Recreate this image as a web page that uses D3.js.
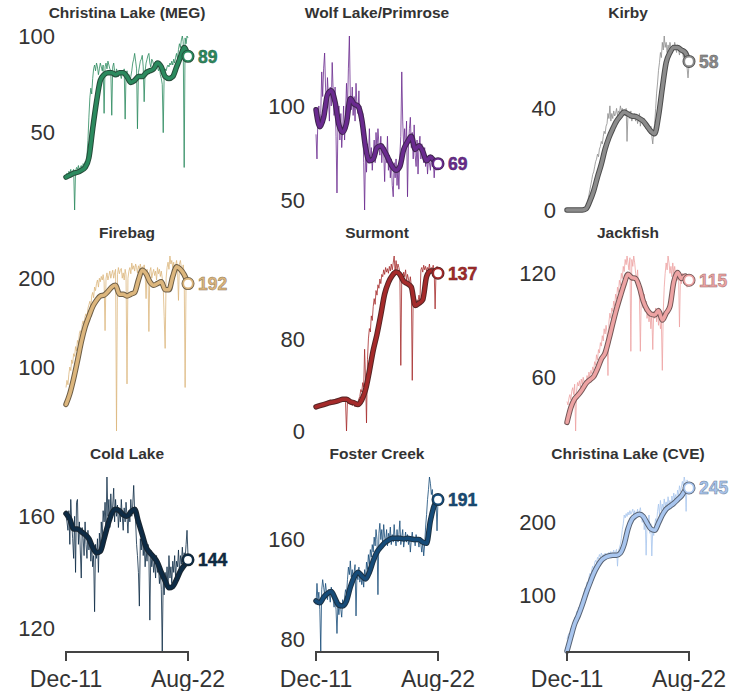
<!DOCTYPE html>
<html><head><meta charset="utf-8">
<script src="https://cdn.jsdelivr.net/npm/d3@7"></script>
<style>body{margin:0;background:#fff}</style>
</head><body><svg id="chart" width="738" height="691"></svg>
<script>
const titles = ["Christina Lake (MEG)","Wolf Lake/Primrose","Kirby","Firebag","Surmont","Jackfish","Cold Lake","Foster Creek","Christina Lake (CVE)"];
const colors = ["#2b8a5e","#6a2a8f","#8c8c8c","#dcb67d","#a52a2a","#eda3a3","#0d2b45","#164b78","#a8c5ee"];
const endLabels = [89,69,58,192,137,115,144,191,245];
const yTicks = [[50,100],[50,100],[0,40],[100,200],[0,80],[60,120],[120,160],[80,160],[100,200]];
const xTickLabels = ["Dec-11","Aug-22"];

// monthly raw values, Dec-11 .. Aug-22 (129 months)
const megRaw = [28,29,27,30,29,31,28,30,31,10, 30,32,31,33,30,32,33,31,34,33, 35,34,38,46,58,68,73,70,78,83, 85,82,86,84,80,83,86,84,82,85, 60,84,86,83,87,85,83,82,59,84, 86,82,80,83,81,79,82,80,78,81, 80,83,57,80,82,78,80,76,79,82, 86,88,91,87,83,52,81,84,87,88, 90,84,66,82,86,88,90,91,86,84, 88,87,85,84,87,86,84,82,84,80, 78,75,50,80,83,82,84,85,84,86, 85,87,85,88,86,89,91,88,93,96, 94,98,100,97,32,99,96,100,99];
const wolfRaw = [85,72,95,100,88,96,118,105,120,128, 110,98,115,105,92,110,100,123,108,95, 110,84,54,90,100,82,96,78,88,100, 82,95,112,98,120,137,105,98,110,95, 105,92,112,100,96,108,92,100,85,96, 70,45,78,65,80,72,88,70,78,66, 74,82,70,86,76,88,80,74,84,70, 80,76,60,78,70,84,66,74,62,72, 58,52,70,62,72,58,68,56,74,84, 118,92,78,88,76,92,52,80,88,94, 78,86,72,90,74,68,82,64,78,84, 72,80,74,70,78,68,74,64,72,70, 66,74,68,72,62,70,66,71,69];
const kirbyRaw = [0,0,0,0,0,0,0,0,0,0, 0,0,0,0,0,0,0,0,0,0.5, 1,2,4,6,8,10,12,14,15,17, 19,20,22,21,24,25,27,26,29,31, 30,33,34,38,36,41,35,38,36,39, 37,38,40,37,39,38,41,39,40,38, 39,37,40,27,38,37,36,39,35,37, 36,38,35,37,34,36,38,33,36,35, 34,36,33,32,34,31,32,30,33,29, 26,31,34,40,46,50,55,58,62,60, 66,63,68.5,64,66,62,65,63,66,64, 62,65,63,66,64,62,65,63,61,64, 62,63,60,62,59,61,56,52,57];
const firebagRaw = [77,85,80,92,100,96,108,104,115,112, 123,118,130,126,138,141,136,148,152,146, 157,160,155,166,170,174,168,180,184,178, 190,186,194,198,190,200,196,202,198,204, 196,141,200,206,198,203,208,200,205,209, 200,206,210,28,204,212,205,209,211,200, 206,198,210,204,81,200,208,212,205,217, 210,214,208,216,212,206,214,210,216,208, 213,209,215,205,177,210,204,140,208,212, 200,206,210,203,208,198,212,205,210,202, 208,200,190,157,121,200,212,218,210,225, 216,220,212,218,206,214,220,210,175,216, 220,212,208,215,205,77,200,198,192];
const surmontRaw = [20,22,21,23,22,24,21,23,25,22, 24,23,26,24,25,27,24,26,25,27, 26,28,25,27,26,28,27,29,26,28, 27,25,0,26,24,26,23,25,22,24, 23,21,24,22,25,28,30,36,34,42, 38,71,45,7,62,80,89,86,100,96, 108,115,110,122,118,127,124,132,128,136, 134,140,136,142,138,141,137,143,139,145, 140,146,152,138,148,140,145,142,138,57, 136,132,138,134,140,130,136,132,128,134, 126,44,120,112,116,110,114,112,118,113, 140,142,138,144,140,143,139,142,140,145, 138,142,141,144,139,106,140,143,140];
const jackfishRaw = [46,44,48,50,47,52,54,50,56,29, 52,57,55,58,54,59,56,60,57,58, 55,61,58,63,60,64,62,66,64,69, 67,73,70,76,74,80,78,84,81,88, 85,90,86,61,92,97,94,100,98,104, 101,108,105,112,109,116,113,120,117,124, 121,128,125,130,126,122,129,75,128,124, 130,126,120,116,122,112,106,75,110,104, 100,108,98,104,94,100,92,98,88,96, 76,98,94,100,92,98,90,96,88,92, 64,98,112,120,126,122,130,126,120,124, 118,126,120,124,118,122,116,120,89,118, 114,120,116,119,114,118,112,117,115];
const coldRaw = [160,158,155,162,150,166,158,152,145,160, 140,165,166,150,158,148,138,156,152,146, 158,150,145,155,148,152,144,150,142,146, 126,150,145,152,140,154,148,158,152,162, 158,165,156,174,160,166,156,168,160,164, 170,158,166,160,164,156,162,158,166,160, 155,163,158,165,160,154,162,158,166,160, 164,171,162,158,150,146,140,128,152,148, 154,146,150,142,148,144,150,146,123,148, 142,146,140,144,138,146,140,142,136,140, 134,112,138,132,140,136,142,134,146,138, 142,136,144,140,146,138,144,142,148,140, 146,143,149,144,147,145,150,155,146];
const fosterRaw = [108,125,112,118,104,71,120,128,122,116, 125,118,112,120,116,110,122,118,112,106, 114,104,85,108,100,110,104,98,112,106, 114,120,116,128,138,132,143,130,136,128, 134,140,99,132,128,138,126,132,124,130, 122,136,128,142,136,148,140,152,146,156, 150,162,155,168,160,116,165,173,160,168, 156,172,162,158,168,155,165,160,170,156, 164,158,172,160,155,168,158,164,175,156, 162,168,154,160,166,158,164,156,162,150, 160,166,158,162,155,164,158,160,154,162, 156,150,158,147,156,170,180,192,200,210, 205,196,200,188,194,185,190,167,192];
const cveRaw = [40,45,48,42,55,50,62,58,70,66, 78,72,84,80,90,86,96,92,104,110, 106,118,114,125,130,126,136,140,134,145, 148,144,152,150,156,152,158,154,156,152, 158,155,157,153,159,156,160,155,158,162, 156,160,163,140,161,165,170,178,190,198, 210,206,212,208,214,210,216,211,214,218, 210,216,206,212,218,208,214,220,210,200, 212,190,205,155,200,192,210,185,198,154, 190,182,196,205,200,215,225,210,230,216, 225,218,232,222,228,220,235,225,230,222, 236,228,240,232,238,230,244,236,250,242, 248,256,250,262,255,215,258,250,252];

// smoothed values, every 4 months Dec-11 .. Aug-22 (33 points)
const megSmooth = [27,28,29,29.5,30.5,32,37,52,66,77,80,81,81,80,81,81,79,76,77,79,79,81,82,83,86,84,79,78,79,84,89,94,89.5];
const wolfSmooth = [98,89,94,106,108,102,90,86,91,104,101,100,93,78,71,72,78,79,76,72,68,66,68,77,81,84,77,79,76,71,73,71,69.5];
const kirbySmooth = [0,0,0,0,0,0.5,3.5,7.5,13,18,24,28.5,32,35,37,38.6,37.8,37,36.8,36,35,33,31,30,37,48,58,62,64,64,63,62,58.5];
const firebagSmooth = [58,70,87,107,128,145,157,168,175,180,181,185,190,192,182,182,180,182,184,198,209,205,196,192,194,196,187,187,202,213,210,204,194];
const surmontSmooth = [21,22,23,24,25,25.5,26.5,27.5,27.5,25.5,24.5,23,27,36,52,70,84,101,119,129,135,138,136,130,128,125,109,111,114,134,139,139,137];
const jackfishSmooth = [34,42.5,47.5,50,53,56.5,58.5,60.5,65,70.5,74,82,91,99.5,107,114,119.5,117.5,117,112,104,99,96.5,96,98.5,93,97,101,115,120.5,117,118.5,116];
const coldSmooth = [161,159,155.5,155.5,154.5,153.5,152,149,147,147.5,152,157,161,162.5,162,160.5,160,161.5,162.5,158,153.5,149,147,145.5,143.5,140,137,134.5,135,137.5,140.5,142.5,144.5];
const fosterSmooth = [111,109.5,114,117,118.5,113,107.5,107,111,122,130,134,131,128.5,134,143,150,154,157.5,159.5,161,161,161,160.5,161,160.5,160,160,158,157,175,187,192];
const cveSmooth = [24,43,61,73,87,103,117,130,140,148,152,154,155,155,158,170,191,204,209,211,208,199,191,189,199,210,218,222,226,231,236,244,247];

const rawSeries = [megRaw,wolfRaw,kirbyRaw,firebagRaw,surmontRaw,jackfishRaw,coldRaw,fosterRaw,cveRaw];
const smoothSeries = [megSmooth,wolfSmooth,kirbySmooth,firebagSmooth,surmontSmooth,jackfishSmooth,coldSmooth,fosterSmooth,cveSmooth];

const startDate = new Date(2011, 11, 1);
const months = d3.range(129).map(i => d3.timeMonth.offset(startDate, i));
const smoothMonths = d3.range(33).map(k => months[k * 4]);
const xTickDates = [months[0], months[128]];

const FONT = "'Liberation Sans', Arial, Helvetica, sans-serif";
const svg = d3.select("#chart");
const colX = [66, 316, 567], W = 122;
const rowTop = [36, 256, 477], rowBottom = [210, 431, 651];

rawSeries.forEach((raw, p) => {
  const r = Math.floor(p / 3), c = p % 3;
  const smooth = smoothSeries[p];
  const col = colors[p];
  const dark = d3.interpolateRgb(col, "#222")(0.6);
  const mid = d3.interpolateRgb(col, "#222")(0.4);
  const x = d3.scaleTime().domain([months[0], months[128]]).range([colX[c], colX[c] + W]);
  const y = d3.scaleLinear().domain(d3.extent(raw.concat(smooth))).range([rowBottom[r], rowTop[r]]);
  const g = svg.append("g");

  g.append("text").attr("x", colX[c] + W / 2).attr("y", rowTop[r] - 18)
    .attr("text-anchor", "middle").attr("font-family", FONT).attr("font-weight", "bold")
    .attr("font-size", 15.5).attr("fill", "#333").text(titles[p]);

  g.selectAll(".yt").data(yTicks[p]).join("text")
    .attr("x", colX[c] - 11).attr("y", d => y(d)).attr("dy", "0.35em")
    .attr("text-anchor", "end").attr("font-family", FONT).attr("font-size", 22)
    .attr("fill", "#333").text(d => d);

  const rawLine = d3.line().x((d, i) => x(months[i])).y(d => y(d));
  g.append("path").attr("d", rawLine(raw)).attr("fill", "none")
    .attr("stroke", col).attr("stroke-width", 1).attr("stroke-opacity", 0.8);

  const smLine = d3.line().x((d, i) => x(smoothMonths[i])).y(d => y(d)).curve(d3.curveMonotoneX);
  g.append("path").attr("d", smLine(smooth)).attr("fill", "none")
    .attr("stroke", dark).attr("stroke-width", 5.5).attr("stroke-linejoin", "round").attr("stroke-linecap", "round");
  g.append("path").attr("d", smLine(smooth)).attr("fill", "none")
    .attr("stroke", col).attr("stroke-width", 3.5).attr("stroke-linejoin", "round").attr("stroke-linecap", "round");

  const ex = x(smoothMonths[32]), ey = y(smooth[32]);
  g.append("circle").attr("cx", ex).attr("cy", ey).attr("r", 4.8)
    .attr("fill", "white").attr("stroke", dark).attr("stroke-width", 3.4);
  g.append("circle").attr("cx", ex).attr("cy", ey).attr("r", 4.8)
    .attr("fill", "white").attr("stroke", col).attr("stroke-width", 1.8);
  g.append("text").attr("x", ex + 10).attr("y", ey).attr("dy", "0.36em")
    .attr("font-family", FONT).attr("font-weight", "bold").attr("font-size", 17.5)
    .attr("fill", col).attr("stroke", mid).attr("stroke-width", 0.5)
    .text(endLabels[p]);

  if (r === 2) {
    const ay = 652;
    g.append("path")
      .attr("d", `M${x(xTickDates[0])},${ay + 9}V${ay}H${x(xTickDates[1])}V${ay + 9}`)
      .attr("fill", "none").attr("stroke", "#444").attr("stroke-width", 2);
    g.selectAll(".xt").data(xTickDates).join("text")
      .attr("x", d => x(d)).attr("y", 687).attr("text-anchor", "middle")
      .attr("font-family", FONT).attr("font-size", 23).attr("fill", "#333")
      .text((d, i) => xTickLabels[i]);
  }
});
</script>
</body></html>
